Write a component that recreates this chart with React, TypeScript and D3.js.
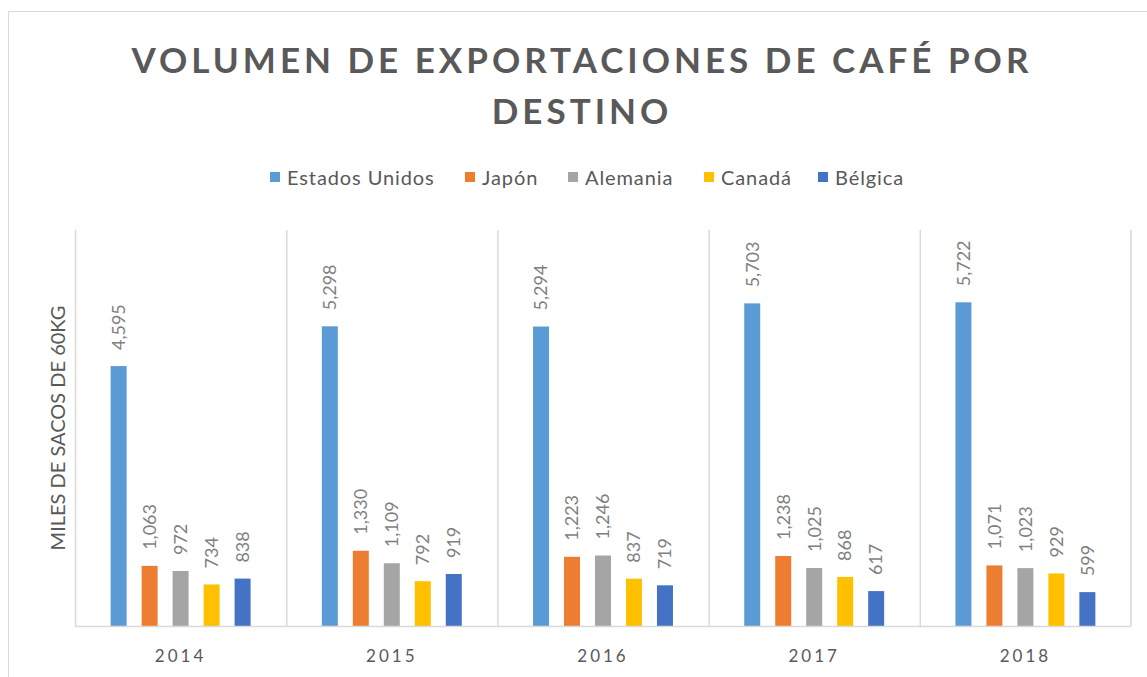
import React from "react";
import * as d3 from "d3";

const years = ["2014", "2015", "2016", "2017", "2018"];
const seriesNames = ["Estados Unidos", "Japón", "Alemania", "Canadá", "Bélgica"];
const seriesColors = ["#5B9BD5", "#ED7D31", "#A5A5A5", "#FFC000", "#4472C4"];
const estadosUnidos = [4595, 5298, 5294, 5703, 5722];
const japon = [1063, 1330, 1223, 1238, 1071];
const alemania = [972, 1109, 1246, 1025, 1023];
const canada = [734, 792, 837, 868, 929];
const belgica = [838, 919, 719, 617, 599];
const seriesValues = [estadosUnidos, japon, alemania, canada, belgica];
const yMax = 7000;

const W = 1147;
const H = 677;
const plot = { left: 75, right: 1131, top: 230, bottom: 626 };
const FONT = "Lato, 'Open Sans', sans-serif";

export default function App() {
  const x0 = d3.scaleBand<string>().domain(years).range([plot.left, plot.right]).padding(0);
  const x1 = d3
    .scaleBand<string>()
    .domain(seriesNames)
    .range([0, x0.bandwidth()])
    .paddingInner(0.484)
    .paddingOuter(1.15);
  const y = d3.scaleLinear().domain([0, yMax]).range([plot.bottom, plot.top]);
  const fmt = d3.format(",");

  const legendX = [270, 465, 568, 704, 818];

  return (
    <svg width={W} height={H} style={{ position: "absolute", left: 0, top: 0, background: "#fff" }}>
      <rect x={8.5} y={11.5} width={W} height={H} fill="#fff" stroke="#D9D9D9" />
      <text
        x={582}
        y={73}
        textAnchor="middle"
        fontFamily={FONT}
        fontWeight="bold"
        fontSize={35}
        letterSpacing={4}
        fill="#595959"
      >
        VOLUMEN DE EXPORTACIONES DE CAFÉ POR
      </text>
      <text
        x={582}
        y={124}
        textAnchor="middle"
        fontFamily={FONT}
        fontWeight="bold"
        fontSize={35}
        letterSpacing={4}
        fill="#595959"
      >
        DESTINO
      </text>
      {seriesNames.map((s, i) => (
        <g key={s}>
          <rect x={legendX[i]} y={172} width={10} height={10} fill={seriesColors[i]} />
          <text x={legendX[i] + 17} y={185} fontFamily={FONT} fontSize={20} letterSpacing={0.9} fill="#595959">
            {s}
          </text>
        </g>
      ))}
      {years.map((yr) => (
        <line
          key={yr}
          x1={(x0(yr) as number) + 0.5}
          x2={(x0(yr) as number) + 0.5}
          y1={plot.top}
          y2={plot.bottom}
          stroke="#D9D9D9"
          strokeWidth={1.5}
        />
      ))}
      <line x1={plot.right} x2={plot.right} y1={plot.top} y2={plot.bottom} stroke="#D9D9D9" strokeWidth={1.5} />
      {years.map((yr, j) =>
        seriesNames.map((s, i) => {
          const v = seriesValues[i][j];
          const bx = (x0(yr) as number) + (x1(s) as number);
          const cx = bx + x1.bandwidth() / 2;
          return (
            <g key={yr + s}>
              <rect x={bx} y={y(v)} width={x1.bandwidth()} height={plot.bottom - y(v)} fill={seriesColors[i]} />
              <text
                transform={`translate(${cx},${y(v) - 16}) rotate(-90)`}
                dy="0.35em"
                textAnchor="start"
                fontFamily={FONT}
                fontSize={18}
                fill="#7F7F7F"
              >
                {fmt(v)}
              </text>
            </g>
          );
        })
      )}
      <line x1={plot.left} x2={plot.right} y1={plot.bottom + 0.5} y2={plot.bottom + 0.5} stroke="#D9D9D9" strokeWidth={1.5} />
      {years.map((yr) => (
        <text
          key={yr}
          x={(x0(yr) as number) + x0.bandwidth() / 2}
          y={662}
          textAnchor="middle"
          fontFamily={FONT}
          fontSize={17}
          letterSpacing={3}
          fill="#595959"
        >
          {yr}
        </text>
      ))}
      <text
        transform={`translate(65,${(plot.top + plot.bottom) / 2}) rotate(-90)`}
        textAnchor="middle"
        fontFamily={FONT}
        fontSize={20}
        fill="#595959"
      >
        MILES DE SACOS DE 60KG
      </text>
    </svg>
  );
}
